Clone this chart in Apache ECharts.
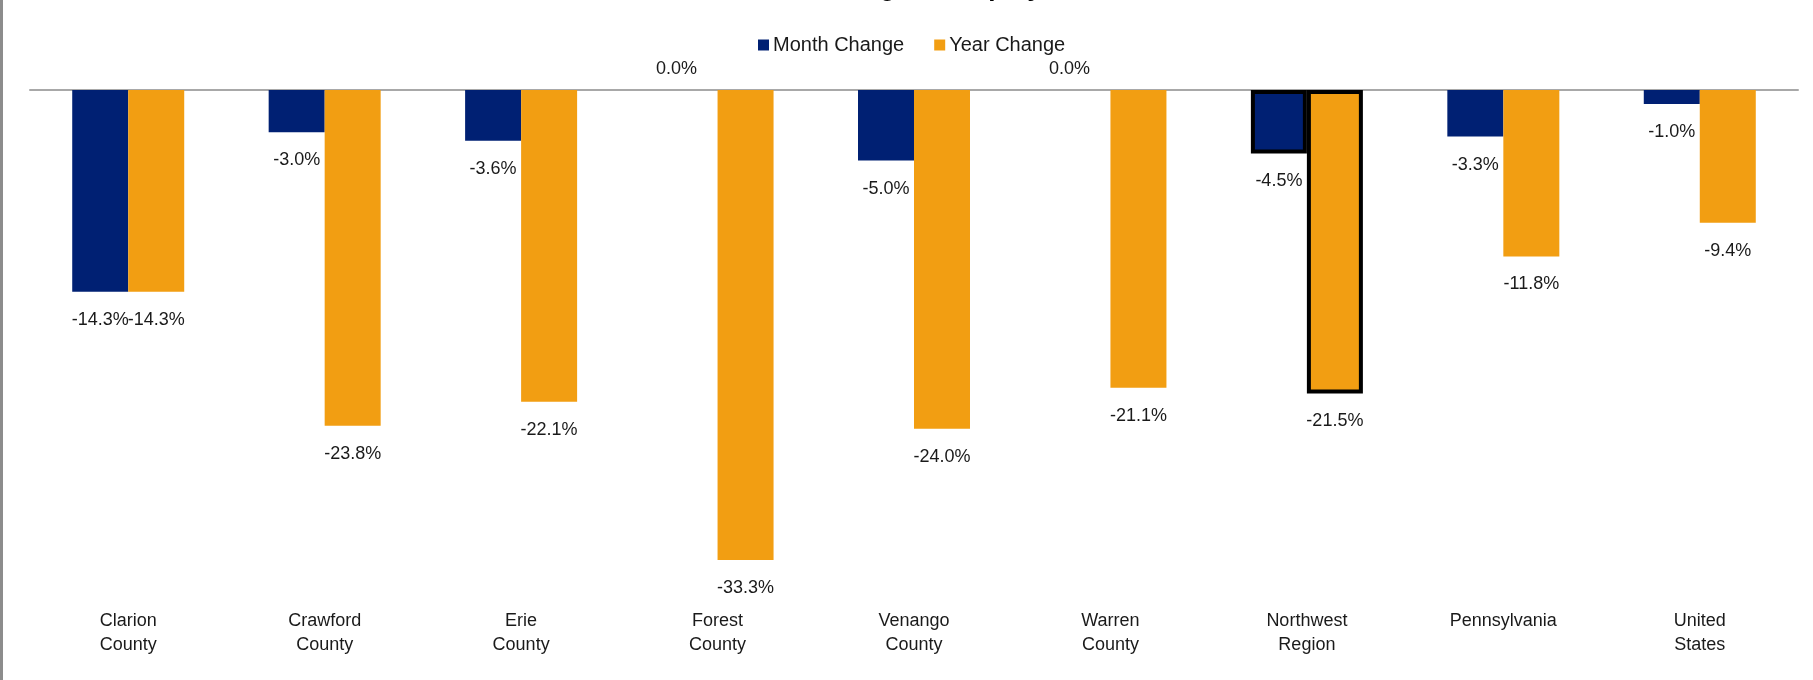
<!DOCTYPE html>
<html>
<head>
<meta charset="UTF-8">
<title>Month and Year Change</title>
<script type="text/javascript" src="https://cdn.jsdelivr.net/npm/echarts@6/dist/echarts.min.js"></script>
<style>
body{
margin:0;
background:#fff;
}
#main{
width:1810px;
height:680px;
border-left:3px solid #8c8c8c;
}
</style>
</head>
<body>
<div id="main"></div>
<script type="text/javascript">
// categories (two-line labels like the original)
var areas = ['Clarion\nCounty','Crawford\nCounty','Erie\nCounty','Forest\nCounty','Venango\nCounty','Warren\nCounty','Northwest\nRegion','Pennsylvania','United\nStates'];
var monthChange = [-14.3, -3.0, -3.6, 0.0, -5.0, 0.0, -4.5, -3.3, -1.0];
var yearChange = [-14.3, -23.8, -22.1, -33.3, -24.0, -21.1, -21.5, -11.8, -9.4];
var highlightArea = 'Northwest\nRegion';

var navy = '#002073';
var orange = '#f29e12';

// turn the numbers into bar items, the region gets the black frame
function makeItems(arr){
	return arr.map(function(v, i){
		var item = {value: v};
		if(areas[i] == highlightArea){
			item.itemStyle = {borderColor:'#000', borderWidth:4};
		}
		if(v === 0){
			// excel puts the 0.0% label above the axis
			item.label = {position:'top', distance:12, offset:[-13,0]};
		}
		return item;
	});
}

var labelStyle = {
	show: true,
	position: 'bottom',
	distance: 19,
	fontFamily: 'Liberation Sans',
	fontSize: 18,
	color: '#1a1a1a',
	formatter: function(p){ return p.value.toFixed(1) + '%'; }
};

var myChart = echarts.init(document.getElementById('main'));
var option = {
	animation: false,
	title: {
		// only the bottom of the title shows in the original
		text: 'Percent Change in Employment',
		left: 'center',
		top: -29,
		textStyle: {
			fontFamily: 'Liberation Sans',
			fontSize: 26,
			fontWeight: 'bold',
			color: '#000'
		}
	},
	legend: {
		left: 750,
		top: 30,
		itemWidth: 11,
		itemHeight: 11,
		itemGap: 30,
		icon: 'rect',
		textStyle: {
			fontFamily: 'Liberation Sans',
			fontSize: 20,
			color: '#1a1a1a',
			padding: [0,0,0,-1]
		},
		data: ['Month Change','Year Change']
	},
	grid: {
		left: 27,
		right: 15,
		top: 90,
		bottom: 82,
		containLabel: false
	},
	xAxis: [
		{
			type: 'category',
			position: 'bottom',
			data: areas,
			axisLine: {show: false, onZero: false},
			axisTick: {show: false},
			axisLabel: {
				margin: 11,
				fontFamily: 'Liberation Sans',
				fontSize: 18,
				lineHeight: 24,
				color: '#1a1a1a',
				verticalAlign: 'top'
			}
		},
		{
			// zero line along the top of the plot
			type: 'category',
			position: 'top',
			data: areas,
			axisLine: {show: true, onZero: false, lineStyle: {color: '#a8a8a8', width: 2}},
			axisTick: {show: false},
			axisLabel: {show: false}
		}
	],
	yAxis: {
		type: 'value',
		min: -36,
		max: 0,
		show: false,
		splitLine: {show: false}
	},
	series: [
		{
			name: 'Month Change',
			type: 'bar',
			barWidth: 56,
			barGap: '0%',
			itemStyle: {color: navy},
			label: labelStyle,
			data: makeItems(monthChange),
			z: 2
		},
		{
			name: 'Year Change',
			type: 'bar',
			barWidth: 56,
			barGap: '0%',
			itemStyle: {color: orange},
			label: labelStyle,
			data: makeItems(yearChange),
			z: 2
		}
	]
};
myChart.setOption(option);
</script>
</body>
</html>
